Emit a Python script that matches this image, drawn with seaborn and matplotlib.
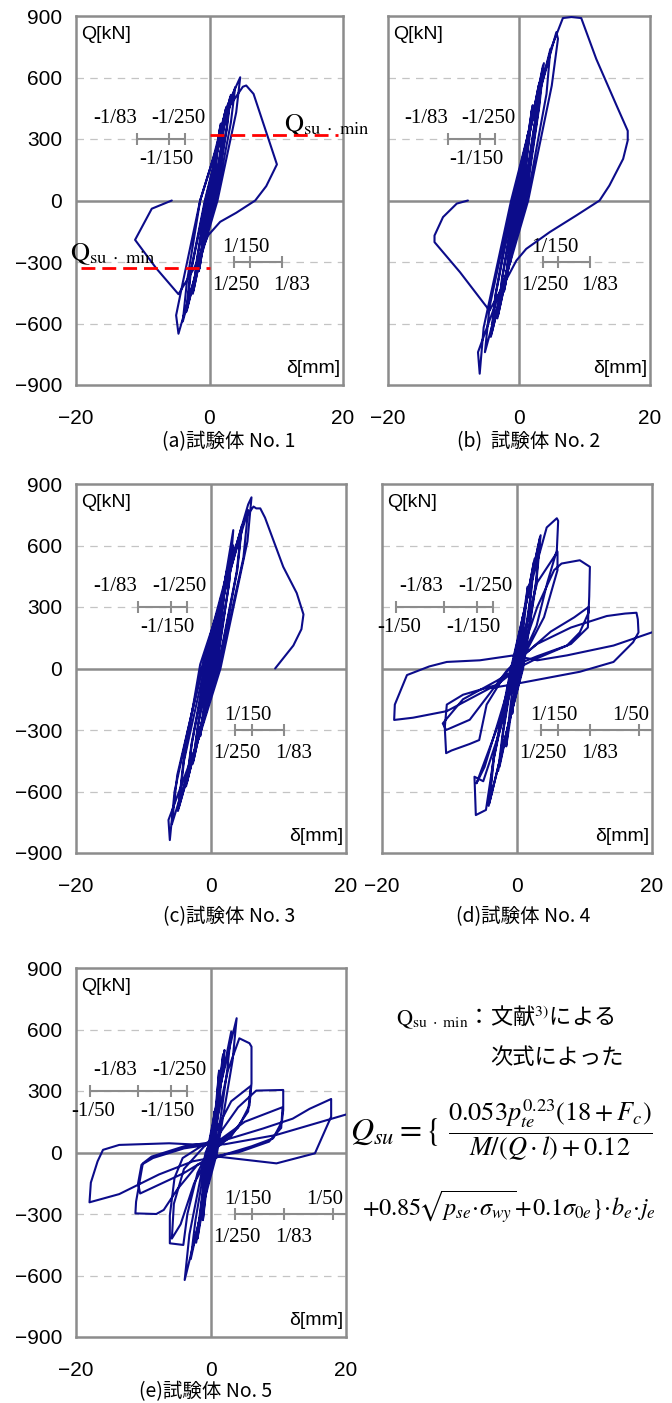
import pandas as pd
import matplotlib.pyplot as plt
import seaborn as sns

sns.set_theme(style="white")
plt.rcParams['font.family'] = ['Liberation Sans', 'Noto Sans CJK JP', 'DejaVu Sans']
plt.rcParams['mathtext.fontset'] = 'stix'
plt.rcParams['text.color'] = 'black'
plt.rcParams['xtick.color'] = 'black'
plt.rcParams['ytick.color'] = 'black'

# hysteresis paths (delta [mm], Q [kN])
spec1 = [(0, 0), (0.3, 80), (0.6, 150), (0.3, 60), (0.0, 0), (-0.2, -50), (-0.5, -120), (-0.3, -60), (-0.1, 0),
         (0.5, 130), (1.0, 250), (0.6, 140), (0.2, 0), (-0.4, -100), (-0.9, -230), (-0.6, -140), (-0.2, 0),
         (0.6, 150), (1.6, 360), (1.1, 230), (0.3, 0), (-0.6, -150), (-1.5, -330), (-1.0, -200), (-0.2, 0),
         (0.7, 170), (1.7, 375), (1.2, 240), (0.4, 0), (-0.6, -160), (-1.6, -345), (-1.1, -210), (-0.3, 0),
         (0.8, 190), (2.4, 440), (1.9, 300), (0.5, 0), (-0.8, -190), (-2.4, -440), (-1.8, -280), (-0.4, 0),
         (0.9, 200), (2.5, 455), (2.0, 310), (0.6, 0), (-0.9, -200), (-2.5, -455), (-1.9, -290), (-0.5, 0),
         (1.0, 220), (3.1, 505), (2.5, 340), (0.7, 0), (-1.0, -220), (-3.4, -537), (-2.8, -350), (-0.6, 0),
         (1.1, 230), (3.2, 515), (2.6, 350), (0.8, 0), (-1.1, -230), (-3.5, -545), (-2.9, -360), (-0.7, 0),
         (1.2, 250), (3.85, 553), (3.2, 380), (1.0, 0), (-1.2, -250), (-4.0, -590), (-3.4, -400), (-1.4, 0),
         (0.5, 200), (2.5, 450), (4.6, 601), (4.0, 430), (1.2, 0), (-1.5, -300), (-3.5, -520), (-4.65, -650),
         (-5.0, -560), (-4.0, -400), (-1.4, 0),
         (1.0, 250), (3.0, 460), (5.0, 555), (5.5, 561), (6.6, 520), (10.1, 176), (8.5, 70), (6.85, 0),
         (4.0, -60), (1.6, -104), (-0.2, -170), (-2.3, -330), (-4.65, -457), (-8.0, -330), (-11.15, -192),
         (-8.65, -40), (-5.65, 0)]

spec2 = [(0, 0), (0.6, 180), (0.3, 60), (0, 0), (-0.6, -160), (-0.3, -60), (0, 0),
         (0.6, 150), (1.3, 320), (0.9, 180), (0.2, 0), (-0.5, -120), (-1.3, -300), (-0.9, -160), (-0.2, 0),
         (0.7, 170), (2.0, 450), (1.5, 300), (0.4, 0), (-0.8, -180), (-2.2, -430), (-1.6, -280), (-0.3, 0),
         (0.8, 190), (2.1, 465), (1.6, 310), (0.4, 0), (-0.8, -190), (-2.3, -445), (-1.7, -290), (-0.4, 0),
         (0.9, 220), (3.0, 560), (2.4, 380), (0.6, 0), (-1.0, -230), (-3.2, -560), (-2.5, -370), (-0.5, 0),
         (1.0, 230), (3.1, 575), (2.5, 390), (0.7, 0), (-1.0, -240), (-3.3, -575), (-2.6, -380), (-0.6, 0),
         (1.2, 260), (3.66, 658), (3.0, 450), (0.9, 0), (-1.2, -260), (-4.2, -650), (-3.5, -450), (-0.8, 0),
         (1.3, 280), (3.8, 670), (3.1, 460), (1.0, 0), (-1.3, -270), (-4.3, -665), (-3.6, -460), (-0.9, 0),
         (1.5, 320), (4.8, 740), (4.2, 520), (1.2, 0), (-1.5, -300), (-5.2, -740), (-4.5, -520), (-1.0, 0),
         (1.6, 350), (5.7, 821), (5.95, 789), (5.0, 560), (1.4, 0), (-1.6, -330), (-6.26, -740), (-6.0, -845),
         (-5.4, -620), (-1.2, 0),
         (2.0, 400), (5.0, 750), (6.7, 890), (8.0, 895), (9.5, 890), (11.8, 690), (14.9, 463), (16.6, 340),
         (16.6, 293), (15.9, 203), (13.8, 73), (12.3, 0), (8.75, -73), (4.7, -154), (1.1, -236), (-0.4, -293),
         (-2.5, -420), (-4.5, -537), (-5.5, -496), (-9.0, -350), (-12.9, -203), (-12.9, -171), (-11.6, -81),
         (-9.5, -15), (-7.8, 0)]

spec3 = [(0, 0), (0.8, 200), (0.4, 80), (0, 0), (-0.8, -180), (-0.4, -70), (0, 0),
         (0.6, 150), (1.5, 350), (1.0, 200), (0.2, 0), (-0.6, -140), (-1.6, -330), (-1.1, -190), (-0.2, 0),
         (0.8, 190), (2.3, 470), (1.7, 300), (0.4, 0), (-0.8, -180), (-2.6, -450), (-1.9, -280), (-0.4, 0),
         (0.9, 200), (2.4, 485), (1.8, 310), (0.5, 0), (-0.9, -190), (-2.7, -465), (-2.0, -290), (-0.5, 0),
         (1.0, 230), (3.3, 600), (2.6, 400), (0.7, 0), (-1.1, -230), (-3.6, -560), (-2.8, -360), (-0.7, 0),
         (1.1, 240), (3.3, 675), (2.7, 420), (0.8, 0), (-1.2, -240), (-3.7, -575), (-2.9, -370), (-0.8, 0),
         (1.3, 280), (4.5, 680), (3.8, 470), (1.0, 0), (-1.4, -280), (-4.8, -680), (-4.0, -450), (-1.0, 0),
         (1.4, 300), (4.6, 700), (3.9, 480), (1.1, 0), (-1.5, -300), (-4.9, -695), (-4.1, -460), (-1.6, 20),
         (1.6, 340), (5.5, 773), (4.8, 540), (1.2, 0), (-1.7, -320), (-5.8, -760), (-5.0, -520), (-1.3, 0),
         (1.8, 380), (5.5, 800), (6.0, 835), (5.4, 620), (1.4, 0), (-1.8, -340), (-6.3, -739), (-6.1, -837),
         (-5.4, -600), (-1.4, 0),
         (2.0, 420), (5.0, 730), (6.3, 790), (6.7, 781), (7.3, 781), (8.0, 736), (10.7, 496), (12.7, 368),
         (13.7, 264), (13.4, 192), (12.2, 112), (9.5, 0)]

spec4 = [(0, 0), (0.8, 250), (0.4, 100), (0, 0), (-0.7, -220), (-0.3, -80), (0, 0),
         (0.6, 180), (1.6, 400), (1.1, 240), (0.3, 0), (-0.6, -160), (-1.6, -380), (-1.1, -220), (-0.3, 0),
         (0.8, 220), (2.5, 520), (1.9, 330), (0.5, 0), (-0.9, -220), (-2.6, -480), (-2.0, -300), (-0.5, 0),
         (0.9, 240), (2.6, 535), (2.0, 340), (0.6, 0), (-1.0, -230), (-2.8, -500), (-2.1, -310), (-0.6, 0),
         (1.1, 280), (3.4, 640), (2.8, 420), (0.8, 0), (-1.3, -280), (-4.1, -657), (-3.4, -430), (-0.8, 0),
         (1.2, 300), (3.5, 650), (2.9, 430), (0.9, 0), (-1.4, -290), (-4.2, -670), (-3.5, -440), (-0.9, 0),
         (1.4, 330), (4.4, 688), (5.9, 733), (6.1, 720), (5.9, 576), (4.5, 420), (2.9, 208), (0.9, 64),
         (-0.5, -50), (-2.5, -300), (-5.0, -550), (-6.3, -528), (-6.1, -715), (-4.6, -690), (-3.5, -450),
         (-1.6, -150), (-0.8, 0),
         (0.5, 100), (3.0, 420), (6.0, 570), (6.0, 480), (4.0, 250), (1.0, 60), (-0.5, -40), (-2.5, -250),
         (-6.0, -560), (-4.8, -480), (-1.5, -120), (-0.5, 0),
         (0.4, 48), (3.0, 300), (5.5, 480), (6.6, 512), (9.3, 528), (10.8, 496), (10.7, 352), (10.6, 272),
         (9.3, 176), (7.4, 112), (3.0, 60), (0.9, 32), (-0.5, -16), (-3.0, -80), (-8.0, -128), (-10.4, -176),
         (-10.7, -288), (-10.5, -413), (-9.7, -400), (-7.0, -368), (-5.6, -349), (-4.5, -176), (-1.5, -16),
         (0.4, 48), (5.0, 180), (8.5, 250), (10.6, 300), (10.5, 200), (8.0, 120), (3.0, 50), (0, 0),
         (-3.0, -60), (-8.0, -150), (-11.0, -268), (-10.5, -300), (-7.0, -250), (-4.0, -120), (-1.5, -10),
         (0, 40), (3.0, 120), (8.0, 200), (13.3, 256), (16.0, 268), (17.7, 272), (17.9, 240), (18.0, 176),
         (17.2, 128), (14.3, 32), (9.3, -16), (2.9, -56), (-1.0, -80), (-4.0, -96), (-10.4, -208),
         (-15.4, -240), (-18.2, -251), (-18.1, -176), (-16.7, -64), (-16.3, -32), (-13.0, 10), (-10.4, 32),
         (-5.5, 40), (-0.5, 64), (3.0, 40), (7.4, 64), (14.3, 112), (20.5, 182)]

spec5 = [(0, 0), (0.5, 200), (0.2, 60), (0, 0), (-0.4, -150), (-0.2, -50), (0, 0),
         (0.6, 180), (1.2, 400), (0.8, 220), (0.2, 0), (-0.5, -130), (-1.2, -330), (-0.8, -180), (-0.2, 0),
         (0.7, 200), (1.8, 480), (1.3, 300), (0.4, 0), (-0.7, -170), (-2.0, -420), (-1.4, -250), (-0.4, 0),
         (0.8, 220), (2.0, 500), (1.4, 310), (0.5, 0), (-0.8, -180), (-2.2, -440), (-1.5, -260), (-0.5, 0),
         (1.0, 260), (3.0, 590), (2.4, 400), (0.7, 0), (-1.0, -220), (-3.0, -520), (-2.3, -330), (-0.6, 0),
         (1.2, 300), (3.8, 655), (3.2, 450), (0.9, 0), (-1.2, -260), (-3.9, -622), (-3.2, -400), (-0.8, 0),
         (0.5, 100), (2.5, 400), (4.2, 557), (5.7, 533), (6.0, 516), (6.0, 337), (5.7, 229), (4.0, 120),
         (1.0, 40), (-0.5, 0), (-2.0, -100), (-3.5, -300), (-4.1, -451), (-6.1, -443), (-6.1, -307),
         (-5.4, -123), (-4.2, -27), (-1.0, 40),
         (0, 60), (3.0, 250), (5.9, 325), (5.5, 200), (3.0, 80), (0, 0), (-2.5, -150), (-4.5, -350),
         (-5.8, -420), (-5.5, -250), (-4.0, -80), (-1.0, 30),
         (1.0, 80), (4.0, 220), (6.7, 302), (10.7, 305), (10.7, 207), (10.5, 150), (9.2, 69), (6.0, 30),
         (2.0, -10), (-2.0, -60), (-5.0, -180), (-7.0, -280), (-8.1, -300), (-11.2, -297), (-11.1, -240),
         (-10.1, -53), (-8.8, -20), (-4.0, 30), (-1.0, 45),
         (0, 30), (5.0, 150), (10.6, 221), (10.4, 120), (8.6, 53), (4.0, 0), (0, -20), (-4.0, -100),
         (-10.5, -200), (-10.8, -150), (-10.3, -60), (-8.6, -27), (-4.0, 20), (0, 40),
         (4.0, 80), (7.7, 117), (12.1, 165), (14.6, 213), (17.8, 261), (17.8, 175), (16.8, 100), (15.4, -4),
         (9.7, -53), (5.0, -35), (1.0, -20), (-2.7, -43), (-7.7, -107), (-13.6, -203), (-18.0, -243),
         (-17.8, -147), (-16.8, -43), (-16.0, 13), (-13.6, 37), (-6.2, 45), (-1.2, 37),
         (2.0, 40), (9.6, 85), (14.6, 133), (20.5, 190)]

specimens = [spec1, spec2, spec3, spec4, spec5]
captions = ['(a)試験体 No. 1', '(b)  試験体 No. 2', '(c)試験体 No. 3', '(d)試験体 No. 4', '(e)試験体 No. 5']
y_ticks = [-900, -600, -300, 0, 300, 600, 900]
x_ticks = [-20, 0, 20]

# Qsu,min of specimen 1 (positive / negative)
qsu_min = [320, -330]

# drift-angle scale marks (mm)
neg_marks = [-10.8, -6.0, -3.6]
pos_marks = [3.6, 6.0, 10.8]
neg_marks_big = [-18.0, -10.8, -6.0, -3.6]
pos_marks_big = [3.6, 6.0, 10.8, 18.0]

W, H = 672, 1403
fig = plt.figure(figsize=(W / 100, H / 100), dpi=100)

rects = [(76, 16, 267), (388, 16, 262), (76, 484, 270), (382, 484, 270), (76, 968, 270)]
cap_pos = [(229, 442), (529, 442), (229, 917), (523, 917), (206, 1392)]

navy = '#0c0c8a'
gray = '#8c8c8c'
serif = 'Liberation Serif'
cjk = ['Noto Sans CJK JP', 'DejaVu Sans']
qsu_label = r'$\mathrm{Q}_{\mathrm{su\ \cdot\ min}}$'

for i, (pts, cap) in enumerate(zip(specimens, captions)):
    x0, y0, w = rects[i]
    ax = fig.add_axes([x0 / W, 1 - (y0 + 369) / H, w / W, 369 / H])
    df = pd.DataFrame(pts, columns=['delta', 'Q'])

    ax.set_xlim(-20, 20)
    ax.set_ylim(-900, 900)
    ax.set_yticks(y_ticks)
    ax.set_xticks(x_ticks)
    for yv in [-600, -300, 300, 600]:
        ax.axhline(yv, color='#c4c4c4', lw=0.9, ls=(0, (6, 5)), zorder=0)
    ax.axhline(0, color=gray, lw=1.8, zorder=1)
    ax.axvline(0, color=gray, lw=1.8, zorder=1)

    big = i >= 3
    nm = neg_marks_big if big else neg_marks
    pm = pos_marks_big if big else pos_marks
    ax.plot([nm[0], nm[-1]], [300, 300], color=gray, lw=1.5, zorder=2)
    ax.plot(nm, [300] * len(nm), ls='none', marker='|', ms=9, mew=1.5, color=gray, zorder=2)
    ax.plot([pm[0], 20 if big else pm[-1]], [-300, -300], color=gray, lw=1.5, zorder=2)
    ax.plot(pm, [-300] * len(pm), ls='none', marker='|', ms=9, mew=1.5, color=gray, zorder=2)

    fs = 15
    ax.text(-14.2, 400, '-1/83', family=serif, fontsize=fs, ha='center', va='center')
    ax.text(-4.7, 400, '-1/250', family=serif, fontsize=fs, ha='center', va='center')
    ax.text(-6.5, 200, '-1/150', family=serif, fontsize=fs, ha='center', va='center')
    ax.text(5.4, -228, '1/150', family=serif, fontsize=fs, ha='center', va='center')
    ax.text(3.9, -415, '1/250', family=serif, fontsize=fs, ha='center', va='center')
    ax.text(12.3, -415, '1/83', family=serif, fontsize=fs, ha='center', va='center')
    if big:
        ax.text(-17.4, 200, '-1/50', family=serif, fontsize=fs, ha='center', va='center')
        ax.text(16.8, -228, '1/50', family=serif, fontsize=fs, ha='center', va='center')

    sns.lineplot(data=df, x='delta', y='Q', sort=False, estimator=None, color=navy, lw=1.5, ax=ax, zorder=3)

    if i == 0:
        ax.plot([0, 19.3], [qsu_min[0]] * 2, color='red', lw=2, ls=(0, (5, 2.5)), zorder=4)
        ax.plot([-19.2, 0], [qsu_min[1]] * 2, color='red', lw=2, ls=(0, (5, 2.5)), zorder=4)
        ax.text(11.2, 368, qsu_label, fontsize=19, ha='left', va='center')
        ax.text(-20.9, -262, qsu_label, fontsize=19, ha='left', va='center')

    ax.text(0.02, 0.95, 'Q[kN]', transform=ax.transAxes, fontsize=14, ha='left', va='center')
    ax.text(0.988, 0.045, 'δ[mm]', transform=ax.transAxes, fontsize=14, ha='right', va='center')

    ax.set_xlabel('')
    ax.set_ylabel('')
    ax.tick_params(length=0, labelsize=15)
    ax.tick_params(axis='x', pad=17)
    ax.tick_params(axis='y', pad=10)
    if i in (1, 3):
        ax.set_yticklabels([])
    for s in ax.spines.values():
        s.set_color(gray)
        s.set_linewidth(1.8)

    cx, cy = cap_pos[i]
    fig.text(cx / W, 1 - cy / H, cap, fontsize=14, ha='center', va='center', family=cjk)

fig.text(505 / W, 1 - 1017 / H, qsu_label + '：文献$^{3)}$による',
         fontsize=16, ha='center', va='center', family=cjk)
fig.text(557 / W, 1 - 1058 / H, '次式によった', fontsize=16, ha='center', va='center', family=cjk)
fig.text(350 / W, 1 - 1132 / H, r'$Q_{su}=\{$', fontsize=23, ha='left', va='center')
fig.text(550 / W, 1 - 1130 / H,
         r'$\dfrac{0.053p_{te}^{0.23}(18+F_c)}{M/(Q\cdot l)+0.12}$',
         fontsize=19, ha='center', va='center')
fig.text(509 / W, 1 - 1207 / H,
         r'$+0.85\!\sqrt{p_{se}\!\cdot\!\sigma_{wy}}\!+\!0.1\sigma_{0e}\}\!\cdot\! b_e\!\cdot\! j_e$',
         fontsize=17.5, ha='center', va='center')

fig.savefig('out.png', dpi=100)
